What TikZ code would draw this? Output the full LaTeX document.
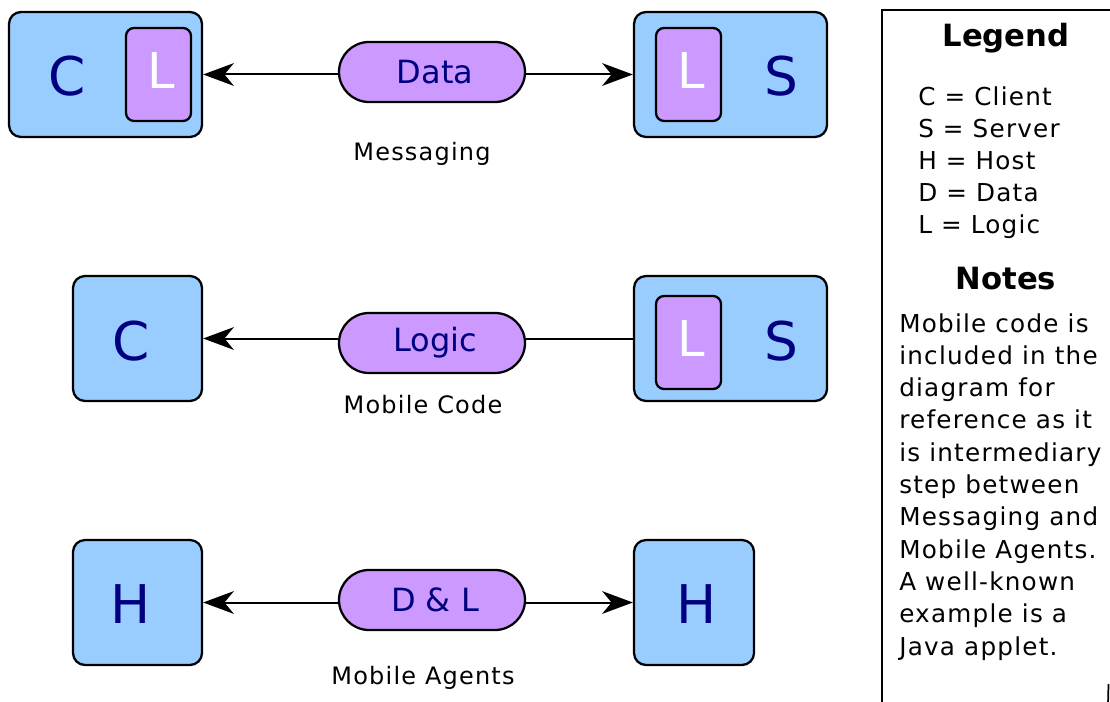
\documentclass[tikz,border=0pt]{standalone}
\usepackage{fontspec}
\setmainfont{DejaVu Sans}
\newfontfamily\spacedsans{DejaVu Sans}[LetterSpace=5]
\usetikzlibrary{arrows.meta}
\definecolor{boxblue}{HTML}{99CCFF}
\definecolor{logicpurple}{HTML}{CC99FF}
\definecolor{navytext}{HTML}{000080}
\tikzset{
  host/.style={draw=black, line width=1.7pt, fill=boxblue, rounded corners=9pt, inner sep=0pt},
  logicbox/.style={draw=black, line width=1.7pt, fill=logicpurple, rounded corners=6pt,
    minimum width={65*0.75pt}, minimum height={93*0.75pt}, inner sep=0pt},
  logicletter/.style={text=white, font=\fontsize{37}{37}\selectfont, inner sep=0pt},
  bigletter/.style={text=navytext, font=\fontsize{40}{40}\selectfont, inner sep=0pt},
  pill/.style={draw=black, line width=1.7pt, fill=logicpurple, rounded corners=22.5pt,
    minimum width={186*0.75pt}, minimum height={60*0.75pt}, inner sep=0pt},
  pilltext/.style={text=navytext, font=\fontsize{24}{24}\selectfont, inner sep=0pt},
  caption/.style={font=\spacedsans\fontsize{18}{18}\selectfont, inner sep=0pt, anchor=base},
  legtitle/.style={font=\fontsize{23}{23}\bfseries\selectfont, inner sep=0pt, anchor=base},
  legtext/.style={font=\spacedsans\fontsize{18.5}{18.5}\selectfont, inner sep=0pt, anchor=base west},
  link/.style={line width=1.5pt},
  arr/.style={link, -{Stealth[length=23pt,width=17pt,inset=7pt]}},
  frame/.style={line width=1.3pt}
}
\begin{document}
\begin{tikzpicture}[x=0.75pt, y=-0.75pt]
\useasboundingbox (0,0) rectangle (1110,702);

% ---- Messaging ----
\node[host, minimum width={193*0.75pt}, minimum height={125*0.75pt}] (cl1) at (105.5,74.5) {};
\node[logicbox] (ll1) at (158.5,74.5) {};
\node[logicletter] (ll1t) at (161.5,71) {L};
\node[bigletter] (c1) at (67,76) {C};
\node[pill] (p1) at (432,72) {};
\node[pilltext] (p1t) at (435,72) {Data};
\node[host, minimum width={193*0.75pt}, minimum height={125*0.75pt}] (sv1) at (730.5,74.5) {};
\node[logicbox] (ls1) at (688.5,74.5) {};
\node[logicletter] (ls1t) at (691.5,71) {L};
\node[bigletter] (s1) at (781,76) {S};
\node[caption] (cap1) at (422,161) {Messaging};
\draw[arr] (p1.west |- cl1.east) -- (cl1.east);
\draw[arr] (p1.east |- sv1.west) -- (sv1.west);

% ---- Mobile Code ----
\node[host, minimum width={129*0.75pt}, minimum height={125*0.75pt}] (cl2) at (137.5,338.5) {};
\node[bigletter] (c2) at (131,341) {C};
\node[pill] (p2) at (432,343) {};
\node[pilltext] (p2t) at (435,343) {Logic};
\node[host, minimum width={193*0.75pt}, minimum height={125*0.75pt}] (sv2) at (730.5,338.5) {};
\node[logicbox] (ls2) at (688.5,342.5) {};
\node[logicletter] (ls2t) at (691.5,339) {L};
\node[bigletter] (s2) at (781,341) {S};
\node[caption] (cap2) at (423,413) {Mobile Code};
\draw[arr] (p2.west |- cl2.east) -- (cl2.east);
\draw[link] (p2.east |- sv2.west) -- (sv2.west);

% ---- Mobile Agents ----
\node[host, minimum width={129*0.75pt}, minimum height={125*0.75pt}] (h1) at (137.5,602.5) {};
\node[bigletter] (h1t) at (131,604) {H};
\node[pill] (p3) at (432,600) {};
\node[pilltext] (p3t) at (435,600) {D \& L};
\node[host, minimum width={120*0.75pt}, minimum height={125*0.75pt}] (h2) at (694,602.5) {};
\node[bigletter] (h2t) at (697,604) {H};
\node[caption] (cap3) at (423,684) {Mobile Agents};
\draw[arr] (p3.west |- h1.east) -- (h1.east);
\draw[arr] (p3.east |- h2.west) -- (h2.west);

% ---- Legend panel ----
\coordinate (fb) at (882,710);
\coordinate (ftl) at (882,10);
\coordinate (ftr) at (1115,10);
\draw[frame] (fb) -- (ftl) -- (ftr);
\coordinate (fra) at (1108.5,684);
\coordinate (frb) at (1108,705);
\draw[frame] (fra) -- (frb);

\node[legtitle] (legend) at (1006,46.5) {Legend};
\foreach \t [count=\i] in {C = Client, S = Server, H = Host, D = Data, L = Logic}
  \node[legtext] (leg\i) at (918,{106+(\i-1)*32}) {\t};

\node[legtitle] (notes) at (1006,289.5) {Notes};
\foreach \t [count=\i] in {Mobile code is, included in the, diagram for, reference as it,
    is intermediary, step between, Messaging and, Mobile Agents., A well-known,
    example is a, Java applet.}
  \node[legtext] (note\i) at (899,{332+(\i-1)*32.3}) {\t};
\end{tikzpicture}
\end{document}
